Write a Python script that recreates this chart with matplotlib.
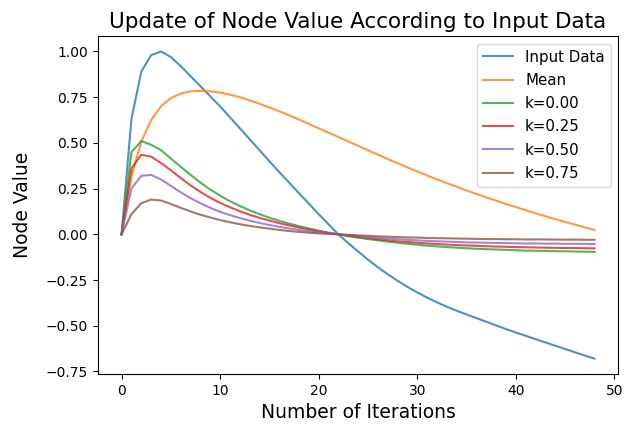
"""Node value update curves for different k, against input data and its running mean."""

import matplotlib
import matplotlib.pyplot as plt
import numpy as np

matplotlib.use('Agg')

iterations = list(range(49))

input_data = [
    0.00, 0.63, 0.89, 0.98, 1.00, 0.97, 0.92, 0.865, 0.81, 0.755,
    0.70, 0.64, 0.58, 0.52, 0.46, 0.40, 0.34, 0.283, 0.225, 0.168,
    0.11, 0.055, 0.00, -0.048, -0.094, -0.138, -0.18, -0.218, -0.254, -0.287,
    -0.318, -0.346, -0.372, -0.396, -0.418, -0.438, -0.458, -0.478, -0.498, -0.518,
    -0.537, -0.555, -0.573, -0.591, -0.609, -0.627, -0.645, -0.663, -0.68,
]

mean_values = [
    0.000, 0.315, 0.507, 0.625, 0.700, 0.745, 0.770, 0.782, 0.785, 0.782,
    0.775, 0.764, 0.750, 0.732, 0.714, 0.694, 0.673, 0.651, 0.628, 0.604,
    0.580, 0.556, 0.532, 0.508, 0.484, 0.460, 0.436, 0.412, 0.389, 0.366,
    0.344, 0.322, 0.301, 0.280, 0.260, 0.240, 0.221, 0.202, 0.184, 0.166,
    0.149, 0.132, 0.115, 0.099, 0.083, 0.068, 0.053, 0.038, 0.024,
]

k_000 = [
    0.000, 0.450, 0.510, 0.490, 0.460, 0.415, 0.370, 0.325, 0.283, 0.245,
    0.211, 0.181, 0.155, 0.131, 0.110, 0.091, 0.074, 0.059, 0.045, 0.032,
    0.020, 0.009, 0.000, -0.010, -0.018, -0.026, -0.033, -0.040, -0.046, -0.052,
    -0.057, -0.062, -0.066, -0.070, -0.073, -0.076, -0.079, -0.081, -0.083, -0.085,
    -0.087, -0.089, -0.090, -0.091, -0.092, -0.093, -0.094, -0.095, -0.096,
]

k_025 = [
    0.000, 0.360, 0.435, 0.425, 0.390, 0.350, 0.308, 0.268, 0.232, 0.200,
    0.172, 0.148, 0.126, 0.107, 0.090, 0.075, 0.061, 0.049, 0.037, 0.026,
    0.016, 0.007, 0.000, -0.008, -0.015, -0.021, -0.027, -0.033, -0.038, -0.042,
    -0.046, -0.050, -0.053, -0.056, -0.059, -0.061, -0.063, -0.065, -0.067, -0.068,
    -0.070, -0.071, -0.072, -0.073, -0.074, -0.075, -0.075, -0.076, -0.077,
]

k_050 = [
    0.000, 0.250, 0.320, 0.325, 0.300, 0.265, 0.230, 0.198, 0.170, 0.145,
    0.123, 0.105, 0.089, 0.075, 0.062, 0.051, 0.041, 0.032, 0.024, 0.017,
    0.010, 0.005, 0.000, -0.005, -0.010, -0.015, -0.019, -0.023, -0.027, -0.030,
    -0.033, -0.036, -0.038, -0.040, -0.042, -0.044, -0.045, -0.046, -0.047, -0.048,
    -0.049, -0.050, -0.050, -0.051, -0.051, -0.052, -0.052, -0.052, -0.053,
]

k_075 = [
    0.000, 0.110, 0.170, 0.190, 0.185, 0.166, 0.145, 0.125, 0.107, 0.092,
    0.078, 0.066, 0.055, 0.046, 0.038, 0.031, 0.024, 0.018, 0.013, 0.009,
    0.005, 0.002, 0.000, -0.003, -0.006, -0.008, -0.011, -0.013, -0.015, -0.017,
    -0.018, -0.020, -0.021, -0.022, -0.023, -0.024, -0.025, -0.026, -0.026, -0.027,
    -0.027, -0.028, -0.028, -0.028, -0.029, -0.029, -0.029, -0.030, -0.030,
]

k_labels = ['k=0.00', 'k=0.25', 'k=0.50', 'k=0.75']


def main() -> None:
    fig = plt.figure(figsize=(6.4, 4.25), dpi=100)
    ax = fig.add_axes([0.153, 0.12, 0.813, 0.795])

    x = np.array(iterations)
    ax.plot(x, input_data, label='Input Data', alpha=0.8)
    ax.plot(x, mean_values, label='Mean', alpha=0.8)
    for series, label in zip([k_000, k_025, k_050, k_075], k_labels):
        ax.plot(x, series, label=label, alpha=0.8)

    ax.set_title('Update of Node Value According to Input Data', fontsize=15.5)
    ax.set_xlabel('Number of Iterations', fontsize=13.5)
    ax.set_ylabel('Node Value', fontsize=13.5, labelpad=10)
    ax.legend(loc='upper right', fontsize=10.8, labelspacing=0.55)

    fig.savefig('out.png', dpi=100)
    plt.close(fig)


if __name__ == '__main__':
    main()
